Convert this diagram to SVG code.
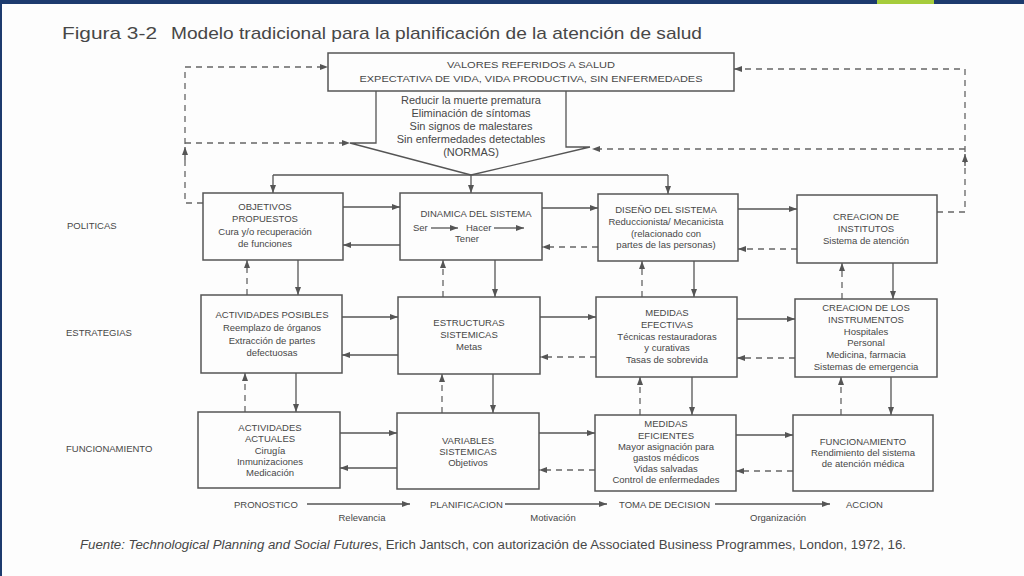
<svg xmlns="http://www.w3.org/2000/svg" width="1024" height="576" viewBox="0 0 1024 576">
<defs>
<style>
text{font-family:"Liberation Sans",Arial,sans-serif;fill:#474747}
.t{font-size:9.5px;text-anchor:middle}
.f{font-size:11px;text-anchor:middle}
.lab{font-size:9.5px}
.box{fill:none;stroke:#555;stroke-width:1.5}
.s{fill:none;stroke:#555;stroke-width:1.3}
.d{fill:none;stroke:#666;stroke-width:1.3;stroke-dasharray:6 5}
</style>
<marker id="a" viewBox="0 0 8 6" refX="8" refY="3" markerWidth="8" markerHeight="6" markerUnits="userSpaceOnUse" orient="auto">
<path d="M0 0 L8 3 L0 6 z" fill="#555"/>
</marker>
</defs>
<rect width="1024" height="576" fill="#fdfdfd"/>
<rect x="0" y="0" width="1024" height="4" fill="#1d3b6e"/>
<rect x="877" y="0" width="57" height="4" fill="#a6cc3c"/>
<rect x="0" y="0" width="2" height="576" fill="#1d3b6e"/>

<g id="title">
<text x="62" y="39" font-size="17" textLength="95" lengthAdjust="spacingAndGlyphs">Figura 3-2</text>
<text x="171" y="39" font-size="17" textLength="531" lengthAdjust="spacingAndGlyphs">Modelo tradicional para la planificación de la atención de salud</text>
</g>

<g id="connectors">
<path class="s" d="M376 91 V143 H350 L471 175"/>
<path class="s" d="M566 91 V147 H590 L471 175"/>
<path class="s" d="M273 175 H668"/>
<path class="s" d="M273 175 V193" marker-end="url(#a)"/>
<path class="s" d="M471 175 V193" marker-end="url(#a)"/>
<path class="s" d="M668 175 V194" marker-end="url(#a)"/>
<path class="d" d="M203 203 H185 V67 H328" marker-end="url(#a)"/>
<path class="d" d="M185 143 H350" marker-end="url(#a)"/>
<path class="s" d="M185 160 V147" marker-end="url(#a)"/>
<path class="d" d="M937 212 H965 V69 H734" marker-end="url(#a)"/>
<path class="d" d="M965 149 H592" marker-end="url(#a)"/>
<path class="s" d="M965 166 V154" marker-end="url(#a)"/>
<path class="s" d="M343 207 H400" marker-end="url(#a)"/>
<path class="s" d="M400 245 H343" marker-end="url(#a)"/>
<path class="s" d="M542 208 H598" marker-end="url(#a)"/>
<path class="d" d="M598 247 H542" marker-end="url(#a)"/>
<path class="s" d="M738 209 H797" marker-end="url(#a)"/>
<path class="d" d="M797 249 H738" marker-end="url(#a)"/>
<path class="s" d="M342 317 H398" marker-end="url(#a)"/>
<path class="s" d="M398 355 H342" marker-end="url(#a)"/>
<path class="s" d="M540 317 H596" marker-end="url(#a)"/>
<path class="d" d="M596 357 H540" marker-end="url(#a)"/>
<path class="s" d="M737 319 H795" marker-end="url(#a)"/>
<path class="d" d="M795 358 H737" marker-end="url(#a)"/>
<path class="s" d="M340 433 H397" marker-end="url(#a)"/>
<path class="s" d="M397 468 H340" marker-end="url(#a)"/>
<path class="s" d="M539 433 H595" marker-end="url(#a)"/>
<path class="d" d="M595 470 H539" marker-end="url(#a)"/>
<path class="s" d="M736 435 H793" marker-end="url(#a)"/>
<path class="d" d="M793 471 H736" marker-end="url(#a)"/>
<path class="d" d="M247 295 V260" marker-end="url(#a)"/>
<path class="s" d="M298 260 V295" marker-end="url(#a)"/>
<path class="d" d="M443 297 V260" marker-end="url(#a)"/>
<path class="s" d="M495 260 V297" marker-end="url(#a)"/>
<path class="d" d="M642 297 V261" marker-end="url(#a)"/>
<path class="s" d="M694 261 V297" marker-end="url(#a)"/>
<path class="d" d="M842 299 V263" marker-end="url(#a)"/>
<path class="s" d="M893 263 V299" marker-end="url(#a)"/>
<path class="d" d="M245 412 V373" marker-end="url(#a)"/>
<path class="s" d="M296 373 V412" marker-end="url(#a)"/>
<path class="d" d="M442 413 V374" marker-end="url(#a)"/>
<path class="s" d="M493 374 V413" marker-end="url(#a)"/>
<path class="d" d="M640 415 V377" marker-end="url(#a)"/>
<path class="s" d="M692 377 V415" marker-end="url(#a)"/>
<path class="d" d="M841 415 V377" marker-end="url(#a)"/>
<path class="s" d="M891 377 V415" marker-end="url(#a)"/>
<path class="s" d="M307 504 H410" marker-end="url(#a)"/>
<path class="s" d="M505 504 H607" marker-end="url(#a)"/>
<path class="s" d="M715 504 H830" marker-end="url(#a)"/>
</g>

<g id="n-valores">
<rect class="box" x="328" y="53" width="406" height="38"/>
<text class="t" x="531" y="68" font-size="11.5" textLength="168" lengthAdjust="spacingAndGlyphs">VALORES REFERIDOS A SALUD</text>
<text class="t" x="531" y="82" textLength="343" lengthAdjust="spacingAndGlyphs">EXPECTATIVA DE VIDA, VIDA PRODUCTIVA, SIN ENFERMEDADES</text>
</g>

<g id="n-normas">
<text class="f" x="471" y="104">Reducir la muerte prematura</text>
<text class="f" x="471" y="117">Eliminación de síntomas</text>
<text class="f" x="471" y="130">Sin signos de malestares</text>
<text class="f" x="471" y="143">Sin enfermedades detectables</text>
<text class="f" x="471" y="156">(NORMAS)</text>
</g>

<g id="n-objetivos">
<rect class="box" x="203" y="193" width="140" height="67"/>
<text class="t" x="265" y="210">OBJETIVOS</text>
<text class="t" x="265" y="222">PROPUESTOS</text>
<text class="t" x="265" y="235">Cura y/o recuperación</text>
<text class="t" x="265" y="247">de funciones</text>
</g>

<g id="n-dinamica">
<rect class="box" x="400" y="193" width="142" height="67"/>
<text class="t" x="476" y="217">DINAMICA DEL SISTEMA</text>
<text class="lab" x="413" y="231">Ser</text>
<path class="s" d="M431 228 H458" marker-end="url(#a)"/>
<text class="lab" x="466" y="231">Hacer</text>
<path class="s" d="M494 228 H524" marker-end="url(#a)"/>
<text class="t" x="467" y="242">Tener</text>
</g>

<g id="n-diseno">
<rect class="box" x="598" y="194" width="140" height="67"/>
<text class="t" x="666" y="213">DISEÑO DEL SISTEMA</text>
<text class="t" x="666" y="225">Reduccionista/ Mecanicista</text>
<text class="t" x="666" y="237">(relacionado con</text>
<text class="t" x="666" y="248">partes de las personas)</text>
</g>

<g id="n-institutos">
<rect class="box" x="797" y="195" width="140" height="68"/>
<text class="t" x="866" y="220">CREACION DE</text>
<text class="t" x="866" y="232">INSTITUTOS</text>
<text class="t" x="866" y="244">Sistema de atención</text>
</g>

<g id="n-actividades-posibles">
<rect class="box" x="201" y="295" width="141" height="78"/>
<text class="t" x="272" y="318">ACTIVIDADES POSIBLES</text>
<text class="t" x="272" y="331">Reemplazo de órganos</text>
<text class="t" x="272" y="344">Extracción de partes</text>
<text class="t" x="272" y="356">defectuosas</text>
</g>

<g id="n-estructuras">
<rect class="box" x="398" y="297" width="142" height="77"/>
<text class="t" x="469" y="326">ESTRUCTURAS</text>
<text class="t" x="469" y="338">SISTEMICAS</text>
<text class="t" x="469" y="350">Metas</text>
</g>

<g id="n-medidas-efectivas">
<rect class="box" x="596" y="297" width="141" height="80"/>
<text class="t" x="667" y="316">MEDIDAS</text>
<text class="t" x="667" y="328">EFECTIVAS</text>
<text class="t" x="667" y="340">Técnicas restauradoras</text>
<text class="t" x="667" y="351">y curativas</text>
<text class="t" x="667" y="363">Tasas de sobrevida</text>
</g>

<g id="n-instrumentos">
<rect class="box" x="795" y="299" width="142" height="78"/>
<text class="t" x="866" y="311">CREACION DE LOS</text>
<text class="t" x="866" y="323">INSTRUMENTOS</text>
<text class="t" x="866" y="335">Hospitales</text>
<text class="t" x="866" y="346">Personal</text>
<text class="t" x="866" y="358">Medicina, farmacia</text>
<text class="t" x="866" y="370">Sistemas de emergencia</text>
</g>

<g id="n-actividades-actuales">
<rect class="box" x="198" y="412" width="142" height="76"/>
<text class="t" x="270" y="431">ACTIVIDADES</text>
<text class="t" x="270" y="442">ACTUALES</text>
<text class="t" x="270" y="454">Cirugía</text>
<text class="t" x="270" y="465">Inmunizaciones</text>
<text class="t" x="270" y="476">Medicación</text>
</g>

<g id="n-variables">
<rect class="box" x="397" y="413" width="142" height="76"/>
<text class="t" x="468" y="444">VARIABLES</text>
<text class="t" x="468" y="455">SISTEMICAS</text>
<text class="t" x="468" y="466">Objetivos</text>
</g>

<g id="n-medidas-eficientes">
<rect class="box" x="595" y="415" width="141" height="76"/>
<text class="t" x="666" y="427">MEDIDAS</text>
<text class="t" x="666" y="439">EFICIENTES</text>
<text class="t" x="666" y="450">Mayor asignación para</text>
<text class="t" x="666" y="461">gastos médicos</text>
<text class="t" x="666" y="472">Vidas salvadas</text>
<text class="t" x="666" y="483">Control de enfermedades</text>
</g>

<g id="n-funcionamiento">
<rect class="box" x="793" y="415" width="140" height="76"/>
<text class="t" x="863" y="445">FUNCIONAMIENTO</text>
<text class="t" x="863" y="456">Rendimiento del sistema</text>
<text class="t" x="863" y="467">de atención médica</text>
</g>

<g id="row-labels">
<text class="lab" x="67" y="229">POLITICAS</text>
<text class="lab" x="66" y="336">ESTRATEGIAS</text>
<text class="lab" x="66" y="452">FUNCIONAMIENTO</text>
</g>

<g id="axis-labels">
<text class="lab" x="234" y="508">PRONOSTICO</text>
<text class="lab" x="430" y="508">PLANIFICACION</text>
<text class="lab" x="619" y="508">TOMA DE DECISION</text>
<text class="lab" x="846" y="508">ACCION</text>
<text class="t" x="362" y="521" font-size="8.5">Relevancia</text>
<text class="t" x="553" y="521" font-size="8.5">Motivación</text>
<text class="t" x="778" y="521" font-size="8.5">Organización</text>
</g>

<g id="source">
<text x="80" y="549" font-size="12" textLength="826" lengthAdjust="spacingAndGlyphs"><tspan font-style="italic">Fuente: Technological Planning and Social Futures</tspan>, Erich Jantsch, con autorización de Associated Business Programmes, London, 1972, 16.</text>
</g>
</svg>
